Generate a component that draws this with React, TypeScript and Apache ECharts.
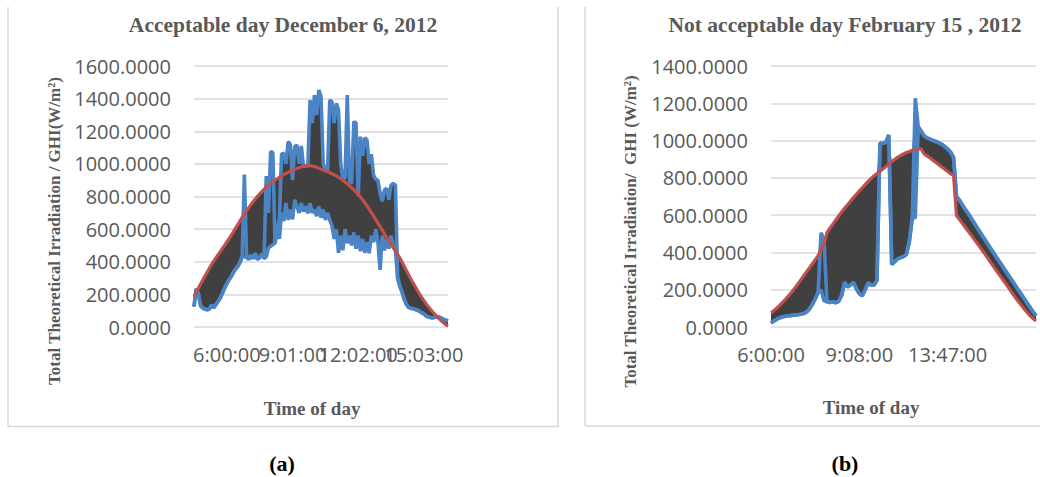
import React, { useEffect, useRef } from 'react';
import * as echarts from 'echarts';

// ---------- Panel (a): Acceptable day December 6, 2012 ----------
const TITLE_A = 'Acceptable day December 6, 2012';
const Y_NAME_A = 'Total Theoretical Irradiation / GHI(W/m²)';
const TICK_LABELS_A = ['6:00:00', '9:01:00', '12:02:00', '15:03:00'];
const TICK_INDEX_A = [15, 45, 75, 105];
const COUNT_A = 117;
const Y_MAX_A = 1600;

const THEORETICAL_A = [
  185, 212, 238, 263, 288, 312, 336, 360, 383, 404,
  424, 443, 462, 482, 501, 521, 541, 562, 583, 606,
  628, 650, 672, 693, 713, 732, 750, 768, 785, 801,
  816, 830, 844, 857, 869, 880, 890, 900, 909, 918,
  926, 934, 941, 948, 955, 961, 967, 972, 977, 981,
  985, 987, 989, 989, 987, 984, 979, 974, 968, 962,
  956, 951, 946, 940, 933, 926, 918, 909, 899, 889,
  878, 867, 855, 842, 828, 813, 797, 780, 762, 743,
  722, 701, 680, 659, 637, 615, 592, 570, 549, 529,
  508, 487, 466, 445, 423, 398, 372, 346, 320, 294,
  271, 248, 225, 203, 182, 162, 143, 125, 108, 92,
  77, 63, 50, 37, 25, 14, 5,
];

// upper envelope of the measured GHI in each sample
const MEASURED_HIGH_A = [
  125, 235, 205, 130, 116, 110, 106, 110, 135, 118,
  137, 157, 178, 208, 239, 266, 290, 310, 335, 355,
  372, 396, 433, 935, 430, 415, 440, 420, 452, 415,
  425, 448, 420, 925, 700, 1075, 1070, 515, 600, 660,
  1060, 1065, 1000, 1136, 1120, 900, 1105, 1116, 1000, 1110,
  985, 987, 989, 1391, 1250, 1422, 1300, 1453, 1412, 1000,
  960, 955, 1391, 1380, 1250, 1371, 1330, 1000, 900, 920,
  1422, 900, 880, 1259, 1250, 800, 1167, 1050, 1160, 1146,
  1000, 1060, 930, 905, 900, 820, 770, 840, 850, 780,
  870, 880, 870, 300, 250, 215, 170, 140, 120, 115,
  112, 108, 105, 95, 88, 80, 68, 62, 58, 56,
  60, 62, 60, 54, 47, 42, 38,
];

// lower envelope of the measured GHI in each sample
const MEASURED_LOW_A = [
  125, 235, 205, 130, 116, 110, 106, 110, 135, 118,
  137, 157, 178, 208, 239, 266, 290, 310, 335, 355,
  372, 396, 433, 430, 430, 415, 440, 420, 452, 415,
  425, 448, 420, 430, 485, 495, 505, 515, 600, 540,
  700, 650, 760, 656, 720, 660, 780, 740, 700, 760,
  707, 740, 697, 760, 700, 720, 680, 740, 670, 720,
  656, 700, 656, 620, 540, 600, 455, 560, 470, 600,
  513, 560, 500, 580, 480, 560, 465, 540, 455, 520,
  452, 560, 520, 600, 520, 350, 560, 470, 540, 480,
  560, 500, 470, 300, 250, 215, 170, 140, 120, 115,
  112, 108, 105, 95, 88, 80, 68, 62, 58, 56,
  60, 62, 60, 54, 47, 42, 38,
];

// ---------- Panel (b): Not acceptable day February 15, 2012 ----------
const TITLE_B = 'Not acceptable day February 15 , 2012';
const Y_NAME_B = 'Total Theoretical Irradiation/  GHI (W/m²)';
const TICK_LABELS_B = ['6:00:00', '9:08:00', '13:47:00'];
const TICK_INDEX_B = [0, 30, 60];
const COUNT_B = 91;
const Y_MAX_B = 1400;

const THEORETICAL_B = [
  75, 88, 102, 117, 133, 150, 168, 187, 207, 228,
  250, 272, 294, 316, 338, 360, 382, 420, 445, 505,
  530, 552, 574, 596, 617, 637, 656, 675, 694, 712,
  730, 747, 764, 781, 797, 811, 823, 836, 848, 860,
  874, 887, 899, 910, 920, 928, 936, 942, 947, 951,
  955, 955, 928, 918, 906, 894, 882, 870, 858, 846,
  834, 822, 812, 598, 577, 556, 534, 513, 492, 470,
  449, 427, 405, 383, 360, 337, 314, 292, 270, 248,
  226, 203, 180, 158, 137, 117, 97, 78, 60, 45,
  32,
];

const MEASURED_HIGH_B = [
  22, 32, 42, 50, 55, 58, 60, 62, 64, 66,
  68, 72, 80, 95, 120, 150, 185, 505, 470, 135,
  132, 135, 130, 138, 170, 240, 215, 225, 240, 205,
  178, 168, 200, 238, 225, 225, 250, 985, 985, 990,
  1030, 335, 350, 365, 372, 378, 390, 460, 590, 1227,
  1075, 1050, 1025, 1015, 1008, 1000, 995, 988, 980, 968,
  955, 938, 910, 700, 680, 655, 630, 607, 583, 558,
  533, 508, 484, 460, 436, 412, 388, 364, 340, 316,
  293, 270, 247, 222, 198, 175, 152, 128, 105, 82,
  60,
];

const MEASURED_LOW_B = [
  22, 32, 42, 50, 55, 58, 60, 62, 64, 66,
  68, 72, 80, 95, 120, 150, 185, 200, 140, 135,
  132, 135, 130, 138, 170, 240, 215, 225, 240, 205,
  178, 168, 200, 238, 225, 225, 250, 985, 985, 990,
  1030, 335, 350, 365, 372, 378, 390, 460, 590, 585,
  1075, 1050, 1025, 1015, 1008, 1000, 995, 988, 980, 968,
  955, 938, 910, 700, 680, 655, 630, 607, 583, 558,
  533, 508, 484, 460, 436, 412, 388, 364, 340, 316,
  293, 270, 247, 222, 198, 175, 152, 128, 105, 82,
  60,
];

const X_NAME = 'Time of day';
const PANEL_LABELS = ['(a)', '(b)'];
const Y_STEP = 200;

// ---------- helpers ----------
const BLUE = '#4a84c4';
const RED = '#c0504d';
const DARK = '#404040';
const GRID_GRAY = '#d9d9d9';
const TEXT_GRAY = '#595959';

function toSec(t: string): number {
  const [h, m, s] = t.split(':').map(Number);
  return h * 3600 + m * 60 + s;
}
function fmtTime(sec: number): string {
  const h = Math.floor(sec / 3600);
  const m = Math.floor((sec % 3600) / 60);
  const s = sec % 60;
  return `${h}:${String(m).padStart(2, '0')}:${String(s).padStart(2, '0')}`;
}
function buildCategories(labels: string[], idx: number[], count: number): string[] {
  const secs = labels.map(toSec);
  const out: string[] = [];
  for (let i = 0; i < count; i++) {
    let k = 0;
    while (k < idx.length - 2 && i > idx[k + 1]) k++;
    const i0 = idx[k], i1 = idx[k + 1];
    const s0 = secs[k], s1 = secs[k + 1];
    const t = s0 + ((i - i0) * (s1 - s0)) / (i1 - i0);
    out.push(fmtTime(Math.round(t)));
  }
  return out;
}

function panelSeries(high: number[], low: number[], theo: number[], axis: number, key: string) {
  const base = low.map((v, i) => Math.min(v, theo[i]));
  const band = high.map((v, i) => Math.max(v, theo[i]) - base[i]);
  const common = { type: 'line', xAxisIndex: axis, yAxisIndex: axis, symbol: 'none' };
  return [
    { ...common, name: 'Measured GHI (max) ' + key, data: high, lineStyle: { color: BLUE, width: 3.6 } },
    { ...common, name: 'Measured GHI (min) ' + key, data: low, lineStyle: { color: BLUE, width: 3.6 } },
    { ...common, name: 'Theoretical ' + key, data: theo, lineStyle: { color: RED, width: 3.2 } },
    {
      ...common, name: 'base ' + key, stack: 'band' + key, data: base,
      lineStyle: { width: 0, opacity: 0 }, silent: true,
    },
    {
      ...common, name: 'High-low ' + key, stack: 'band' + key, data: band,
      lineStyle: { width: 0, opacity: 0 }, areaStyle: { color: DARK, opacity: 1 }, silent: true,
    },
  ];
}

function serifText(x: number, y: number, text: string, size: number, color: string, rotation = 0) {
  return {
    type: 'text', x, y, rotation, silent: true,
    style: {
      text, fill: color, fontSize: size, fontWeight: 'bold', fontFamily: '"Liberation Serif", serif',
      align: 'center', verticalAlign: 'middle', textAlign: 'center', textVerticalAlign: 'middle',
    },
  };
}

function border(x1: number, y1: number, x2: number, y2: number) {
  return { type: 'line', silent: true, shape: { x1, y1, x2, y2 }, style: { stroke: GRID_GRAY, lineWidth: 1.5 } };
}

export default function App() {
  const ref = useRef<HTMLDivElement>(null);

  useEffect(() => {
    if (!ref.current) return;
    const chart = echarts.init(ref.current, undefined, { renderer: 'svg' });
    const catsA = buildCategories(TICK_LABELS_A, TICK_INDEX_A, COUNT_A);
    const catsB = buildCategories(TICK_LABELS_B, TICK_INDEX_B, COUNT_B);

    // the crowded time labels of panel (a) overlap each other, as in the original;
    // they are split over two coincident category axes so none of them is dropped
    const xAxis = (gridIndex: number, cats: string[], ticks: number[]) => ({
      type: 'category', gridIndex, data: cats, boundaryGap: false, position: 'bottom', offset: 0,
      axisLine: { show: false }, axisTick: { show: false }, splitLine: { show: false },
      axisLabel: {
        interval: (index: number) => ticks.includes(index),
        hideOverlap: false,
        color: TEXT_GRAY, fontFamily: '"Open Sans", sans-serif', fontSize: 20, margin: 17,
      },
    });
    const yAxis = (gridIndex: number, max: number) => ({
      type: 'value', gridIndex, min: 0, max, interval: Y_STEP,
      axisLine: { show: false }, axisTick: { show: false },
      splitLine: { show: true, lineStyle: { color: GRID_GRAY, width: 1.5 } },
      axisLabel: {
        formatter: (v: number) => v.toFixed(4),
        color: TEXT_GRAY, fontFamily: '"Open Sans", sans-serif', fontSize: 20, margin: 23,
      },
    });

    const ticksA1 = TICK_INDEX_A.filter((_, k) => k % 2 === 0);
    const ticksA2 = TICK_INDEX_A.filter((_, k) => k % 2 === 1);

    chart.setOption({
      animation: false,
      backgroundColor: '#ffffff',
      grid: [
        { left: 194, top: 66, width: 254, height: 261 },
        { left: 771, top: 66, width: 265, height: 261 },
      ],
      xAxis: [
        xAxis(0, catsA, ticksA1),
        xAxis(1, catsB, TICK_INDEX_B),
        xAxis(0, catsA, ticksA2),
      ],
      yAxis: [yAxis(0, Y_MAX_A), yAxis(1, Y_MAX_B)],
      series: [
        ...panelSeries(MEASURED_HIGH_A, MEASURED_LOW_A, THEORETICAL_A, 0, 'a'),
        ...panelSeries(MEASURED_HIGH_B, MEASURED_LOW_B, THEORETICAL_B, 1, 'b'),
      ],
      graphic: [
        border(8, 7, 8, 427),
        border(8, 426.5, 558, 426.5),
        border(558, 7, 558, 427),
        border(585, 7, 585, 426),
        border(585, 426, 1040, 426),
        serifText(283, 25, TITLE_A, 21.5, TEXT_GRAY),
        serifText(845, 25, TITLE_B, 21.5, TEXT_GRAY),
        serifText(54, 231, Y_NAME_A, 17, TEXT_GRAY, Math.PI / 2),
        serifText(630.5, 231.5, Y_NAME_B, 17, TEXT_GRAY, Math.PI / 2),
        serifText(312, 408, X_NAME, 19, TEXT_GRAY),
        serifText(871, 407, X_NAME, 19, TEXT_GRAY),
        serifText(282, 463, PANEL_LABELS[0], 22, '#000000'),
        serifText(845, 463, PANEL_LABELS[1], 22, '#000000'),
      ],
    });
    return () => chart.dispose();
  }, []);

  return (
    <div
      ref={ref}
      style={{ position: 'fixed', left: 0, top: 0, width: 1040, height: 477, background: '#fff' }}
    />
  );
}
